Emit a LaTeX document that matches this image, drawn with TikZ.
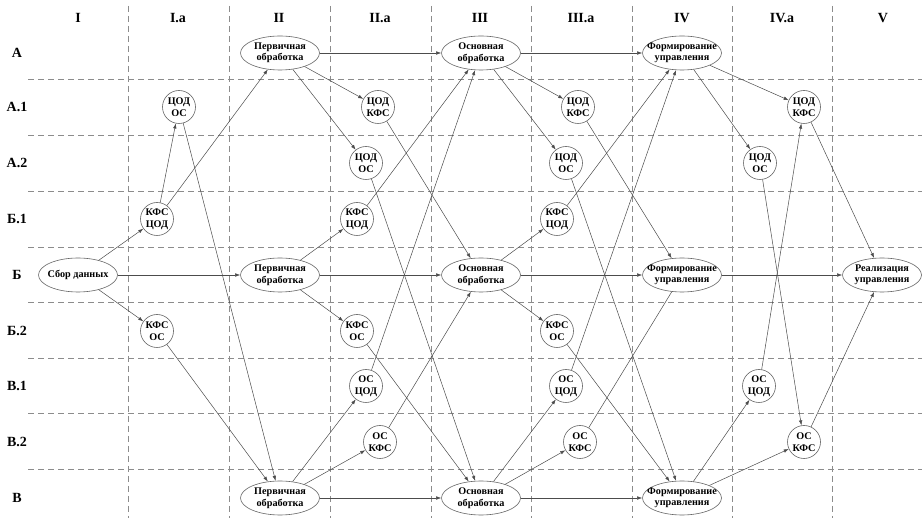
\documentclass[tikz,border=0pt]{standalone}
\usepackage{fontspec}
\setmainfont{Liberation Serif}
\usepackage{tikz}
\usetikzlibrary{arrows.meta,shapes.geometric}
\tikzset{
	grid/.style={dashed, dash pattern=on 6pt off 4pt, color=black!45, line width=0.6pt},
	lbl/.style={font=\bfseries\fontsize{14}{16}\selectfont},
	stage/.style={ellipse, draw=black!60, line width=0.6pt, minimum width=79pt, minimum height=34pt, inner xsep=-12pt, inner ysep=0pt, align=center, font=\bfseries\fontsize{10.2}{11.5}\selectfont},
	sub/.style={circle, draw=black!60, line width=0.6pt, minimum size=33pt, inner sep=0pt, align=center, font=\bfseries\fontsize{10.2}{11.5}\selectfont},
	arr/.style={-{Latex[length=5pt,width=3.5pt]}, color=black!70, line width=0.5pt},
	ln/.style={color=black!70, line width=0.5pt}
}

\begin{document}
\begin{tikzpicture}[x=1pt, y=-1pt]
			%%%%% START %%%%%
			
			\fill[white] (0, 0) rectangle (922, 518);
			\useasboundingbox (0, 0) rectangle (922, 518);
			
			\draw[grid] (128, 6) -- (128, 518);
			\draw[grid] (229, 6) -- (229, 518);
			\draw[grid] (330, 6) -- (330, 518);
			\draw[grid] (431, 6) -- (431, 518);
			\draw[grid] (531, 6) -- (531, 518);
			\draw[grid] (632, 6) -- (632, 518);
			\draw[grid] (732, 6) -- (732, 518);
			\draw[grid] (832, 6) -- (832, 518);
			
			\draw[grid] (28, 79) -- (922, 79);
			\draw[grid] (28, 135) -- (922, 135);
			\draw[grid] (28, 191) -- (922, 191);
			\draw[grid] (28, 247) -- (922, 247);
			\draw[grid] (28, 302) -- (922, 302);
			\draw[grid] (28, 358) -- (922, 358);
			\draw[grid] (28, 413) -- (922, 413);
			\draw[grid] (28, 469) -- (922, 469);
			
			\node[lbl] (colI) at (78, 18) {I};
			\node[lbl] (colIa) at (178, 18) {I.a};
			\node[lbl] (colII) at (279, 18) {II};
			\node[lbl] (colIIa) at (380, 18) {II.a};
			\node[lbl] (colIII) at (480, 18) {III};
			\node[lbl] (colIIIa) at (581, 18) {III.a};
			\node[lbl] (colIV) at (682, 18) {IV};
			\node[lbl] (colIVa) at (782, 18) {IV.a};
			\node[lbl] (colV) at (883, 18) {V};
			
			\node[lbl] (rowA) at (17, 53) {А};
			\node[lbl] (rowA1) at (17, 107) {А.1};
			\node[lbl] (rowA2) at (17, 163) {А.2};
			\node[lbl] (rowB1) at (17, 219) {Б.1};
			\node[lbl] (rowB) at (17, 275) {Б};
			\node[lbl] (rowB2) at (17, 331) {Б.2};
			\node[lbl] (rowV1) at (17, 386) {В.1};
			\node[lbl] (rowV2) at (17, 442) {В.2};
			\node[lbl] (rowV) at (17, 498) {В};
			
			\node[stage] (sbor) at (78, 275) {Сбор данных};
			\node[stage] (pA) at (280, 53) {Первичная\\обработка};
			\node[stage] (pB) at (280, 275) {Первичная\\обработка};
			\node[stage] (pV) at (280, 498) {Первичная\\обработка};
			\node[stage] (oA) at (481, 53) {Основная\\обработка};
			\node[stage] (oB) at (481, 275) {Основная\\обработка};
			\node[stage] (oV) at (481, 498) {Основная\\обработка};
			\node[stage] (fA) at (682, 53) {Формирование\\управления};
			\node[stage] (fB) at (682, 275) {Формирование\\управления};
			\node[stage] (fV) at (682, 498) {Формирование\\управления};
			\node[stage] (real) at (882, 275) {Реализация\\управления};
			
			\node[sub] (IaA1) at (179, 107) {ЦОД\\ОС};
			\node[sub] (IaB1) at (157, 219) {КФС\\ЦОД};
			\node[sub] (IaB2) at (157, 331) {КФС\\ОС};
			
			\node[sub] (IIaA1) at (378, 107) {ЦОД\\КФС};
			\node[sub] (IIaA2) at (366, 163) {ЦОД\\ОС};
			\node[sub] (IIaB1) at (357, 219) {КФС\\ЦОД};
			\node[sub] (IIaB2) at (357, 331) {КФС\\ОС};
			\node[sub] (IIaV1) at (366, 386) {ОС\\ЦОД};
			\node[sub] (IIaV2) at (380, 442) {ОС\\КФС};
			
			\node[sub] (IIIaA1) at (578, 107) {ЦОД\\КФС};
			\node[sub] (IIIaA2) at (566, 163) {ЦОД\\ОС};
			\node[sub] (IIIaB1) at (557, 219) {КФС\\ЦОД};
			\node[sub] (IIIaB2) at (557, 331) {КФС\\ОС};
			\node[sub] (IIIaV1) at (566, 386) {ОС\\ЦОД};
			\node[sub] (IIIaV2) at (580, 442) {ОС\\КФС};
			
			\node[sub] (IVaA1) at (804, 107) {ЦОД\\КФС};
			\node[sub] (IVaA2) at (760, 163) {ЦОД\\ОС};
			\node[sub] (IVaV1) at (759, 386) {ОС\\ЦОД};
			\node[sub] (IVaV2) at (804, 442) {ОС\\КФС};
			
			% I -> II
			\draw[arr] (sbor) -- (IaB1);
			\draw[arr] (sbor) -- (pB);
			\draw[arr] (sbor) -- (IaB2);
			\draw[arr] (IaB1) -- (IaA1);
			\draw[arr] (IaB1) -- (pA);
			\draw[arr] (IaA1) -- (pV);
			\draw[arr] (IaB2) -- (pV);
			
			% II -> III
			\draw[arr] (pA) -- (oA);
			\draw[arr] (pA) -- (IIaA1);
			\draw[arr] (pA) -- (IIaA2);
			\draw[arr] (pB) -- (IIaB1);
			\draw[arr] (pB) -- (oB);
			\draw[arr] (pB) -- (IIaB2);
			\draw[arr] (pV) -- (IIaV1);
			\draw[arr] (pV) -- (IIaV2);
			\draw[arr] (pV) -- (oV);
			\draw[arr] (IIaA1) -- (oB);
			\draw[arr] (IIaA2) -- (oV);
			\draw[arr] (IIaB1) -- (oA);
			\draw[arr] (IIaB2) -- (oV);
			\draw[arr] (IIaV1) -- (oA);
			\draw[arr] (IIaV2) -- (oB);
			
			% III -> IV
			\draw[arr] (oA) -- (fA);
			\draw[arr] (oA) -- (IIIaA1);
			\draw[arr] (oA) -- (IIIaA2);
			\draw[arr] (oB) -- (IIIaB1);
			\draw[arr] (oB) -- (fB);
			\draw[arr] (oB) -- (IIIaB2);
			\draw[arr] (oV) -- (IIIaV1);
			\draw[arr] (oV) -- (IIIaV2);
			\draw[arr] (oV) -- (fV);
			\draw[arr] (IIIaA1) -- (fB);
			\draw[arr] (IIIaA2) -- (fV);
			\draw[arr] (IIIaB1) -- (fA);
			\draw[arr] (IIIaB2) -- (fV);
			\draw[arr] (IIIaV1) -- (fA);
			\draw[ln] (IIIaV2) -- (fB);
			
			% IV -> V
			\draw[arr] (fA) -- (IVaA1);
			\draw[arr] (fA) -- (IVaA2);
			\draw[arr] (fB) -- (real);
			\draw[arr] (fV) -- (IVaV1);
			\draw[arr] (fV) -- (IVaV2);
			\draw[arr] (IVaA1) -- (real);
			\draw[arr] (IVaA2) -- (IVaV2);
			\draw[arr] (IVaV1) -- (IVaA1);
			\draw[arr] (IVaV2) -- (real);
			
			%%%%% END %%%%%
\end{tikzpicture}
\end{document}
